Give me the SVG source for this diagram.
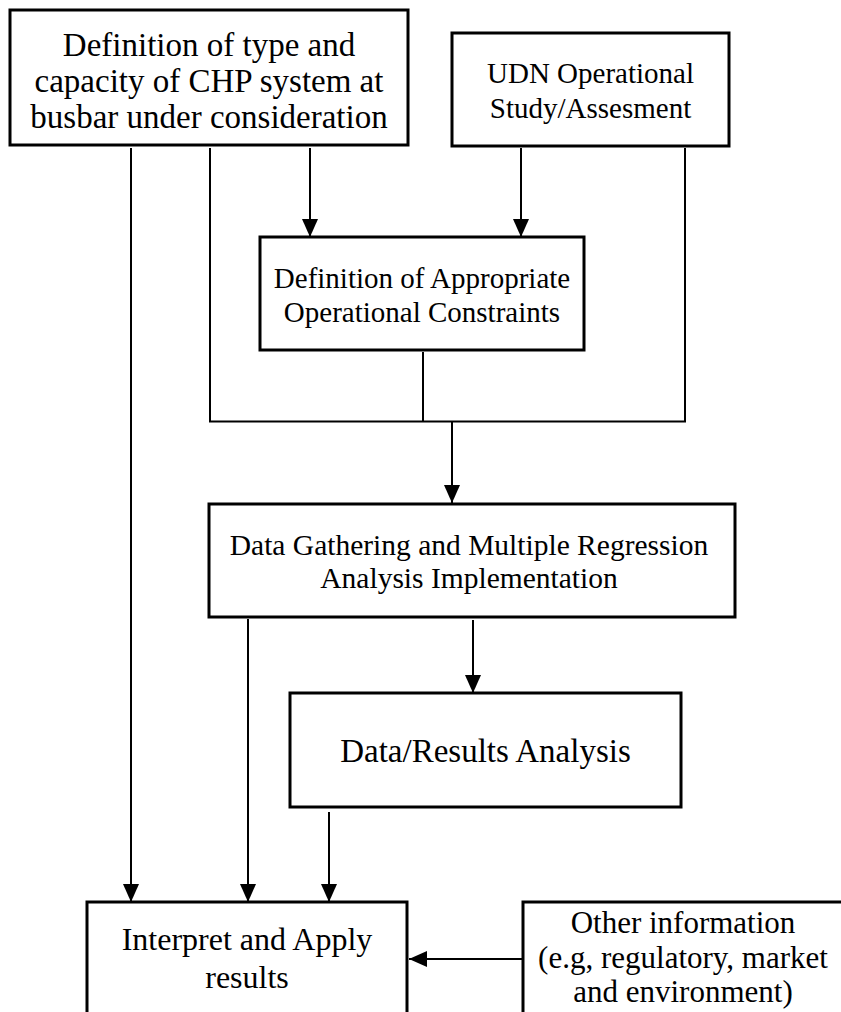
<svg xmlns="http://www.w3.org/2000/svg" width="841" height="1012" viewBox="0 0 841 1012">
<style>
.box{fill:#fff;stroke:#000;stroke-width:3}
.t{font-family:"Liberation Serif","Times New Roman",serif;fill:#000;text-anchor:middle}
.c{fill:none;stroke:#000;stroke-width:2}
</style>
<defs>
<marker id="ah" markerUnits="userSpaceOnUse" markerWidth="18" markerHeight="16" refX="18" refY="8" orient="auto" viewBox="0 0 18 16">
<path d="M0,0 L18,8 L0,16 z" fill="#000"/>
</marker>
</defs>
<rect width="841" height="1012" fill="#fff"/>
<g id="connectors">
<line class="c" x1="131" y1="148" x2="131" y2="902" marker-end="url(#ah)"/>
<polyline class="c" points="210,148 210,421.5 685,421.5 685,148"/>
<line class="c" x1="310" y1="148" x2="310" y2="237" marker-end="url(#ah)"/>
<line class="c" x1="521" y1="148" x2="521" y2="237" marker-end="url(#ah)"/>
<line class="c" x1="423" y1="352" x2="423" y2="421.5"/>
<line class="c" x1="452" y1="421.5" x2="452" y2="503" marker-end="url(#ah)"/>
<line class="c" x1="248" y1="619" x2="248" y2="902" marker-end="url(#ah)"/>
<line class="c" x1="473" y1="620" x2="473" y2="693" marker-end="url(#ah)"/>
<line class="c" x1="329" y1="812" x2="329" y2="902" marker-end="url(#ah)"/>
<line class="c" x1="523" y1="959" x2="409" y2="959" marker-end="url(#ah)"/>
</g>
<g id="node-chp">
<rect class="box" x="10" y="10" width="398" height="135"/>
<text class="t" font-size="33" x="209" y="56">Definition of type and</text>
<text class="t" font-size="33" x="209" y="92">capacity of CHP system at</text>
<text class="t" font-size="33" x="209" y="128">busbar under consideration</text>
</g>
<g id="node-udn">
<rect class="box" x="452" y="33" width="277" height="113"/>
<text class="t" font-size="29" x="590.5" y="83">UDN Operational</text>
<text class="t" font-size="29" x="590.5" y="118">Study/Assesment</text>
</g>
<g id="node-constraints">
<rect class="box" x="260" y="237" width="324" height="113"/>
<text class="t" font-size="29" x="422" y="288">Definition of Appropriate</text>
<text class="t" font-size="29" x="422" y="322">Operational Constraints</text>
</g>
<g id="node-data">
<rect class="box" x="209" y="504" width="526" height="113"/>
<text class="t" font-size="29.5" x="469" y="555">Data Gathering and Multiple Regression</text>
<text class="t" font-size="29.5" x="469" y="588">Analysis Implementation</text>
</g>
<g id="node-results">
<rect class="box" x="290" y="693" width="391" height="114"/>
<text class="t" font-size="33" x="485.5" y="762">Data/Results Analysis</text>
</g>
<g id="node-interpret">
<rect class="box" x="87" y="902" width="320" height="140"/>
<text class="t" font-size="32" x="247" y="950">Interpret and Apply</text>
<text class="t" font-size="32" x="247" y="988">results</text>
</g>
<g id="node-other">
<rect class="box" x="523" y="902" width="340" height="140"/>
<text class="t" font-size="31" x="683" y="933">Other information</text>
<text class="t" font-size="31" x="683" y="968">(e.g, regulatory, market</text>
<text class="t" font-size="31" x="683" y="1002">and environment)</text>
</g>
</svg>
